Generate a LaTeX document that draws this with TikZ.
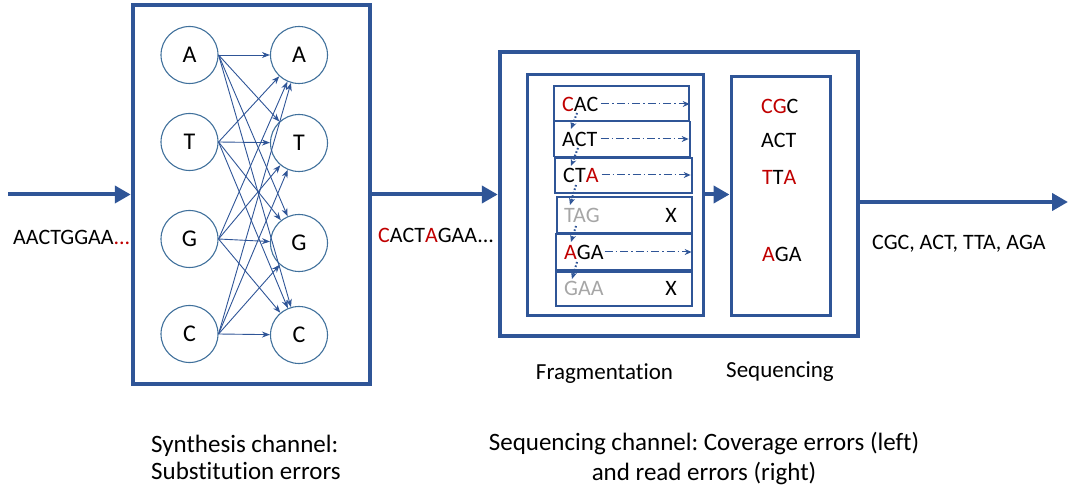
\documentclass[tikz,border=0pt]{standalone}
\usepackage{fontspec}
\setmainfont[Ligatures=NoCommon]{Carlito}
\usetikzlibrary{arrows.meta}
\frenchspacing
\definecolor{frameblue}{HTML}{2F5597}
\definecolor{ringblue}{HTML}{41719C}
\definecolor{errred}{HTML}{C00000}
\definecolor{lostgray}{HTML}{A6A6A6}
\newcommand{\er}[1]{\textcolor{errred}{#1}}
\newcommand{\lost}[1]{\textcolor{lostgray}{#1}}
\tikzset{
  channel/.style={draw=frameblue, line width=4.5pt},
  stage/.style={draw=frameblue, line width=3pt},
  fragbox/.style={draw=frameblue, line width=1.3pt},
  base/.style={circle, draw=ringblue, line width=1.1pt, minimum size=57pt, inner sep=0pt, font=\fontsize{24}{28}\selectfont},
  subst/.style={draw=frameblue, line width=0.9pt, -{Stealth[length=8pt,width=6pt]}},
  flow/.style={draw=frameblue, line width=4pt, -{Triangle[length=16pt,width=17pt]}},
  seqtext/.style={inner sep=0pt, font=\fontsize{22}{26}\selectfont},
  stagelabel/.style={inner sep=0pt, font=\fontsize{23}{27}\selectfont},
  caption/.style={inner sep=0pt, font=\fontsize{25}{30}\selectfont},
  readout/.style={draw=frameblue, line width=1pt, dash pattern=on 8pt off 3pt on 1.5pt off 3pt, -{Stealth[length=7pt,width=6pt]}},
  walk/.style={draw=frameblue, line width=2pt, dash pattern=on 1.6pt off 2pt, -{Stealth[length=7pt,width=6pt]}},
}
\begin{document}
\begin{tikzpicture}[x=1pt, y=-1pt]
\useasboundingbox (0,0) rectangle (1068,494);

% synthesis channel
\node[channel, minimum width=237pt, minimum height=379pt, inner sep=0pt] (syn) at (251.5,194.5) {};
\node[base] (la) at (189.5,55) {A};
\node[base] (lt) at (189.5,142) {T};
\node[base] (lg) at (189.5,239) {G};
\node[base] (lc) at (189.5,334) {C};
\node[base] (ra) at (299,55) {A};
\node[base] (rt) at (299,143) {T};
\node[base] (rg) at (299,243) {G};
\node[base] (rc) at (299,335) {C};
\foreach \s in {la,lt,lg,lc}
  \foreach \t in {ra,rt,rg,rc}
    \draw[subst] (\s.east) -- (\t);

% sequencing channel
\node[channel, minimum width=358pt, minimum height=284pt, inner sep=0pt] (seq) at (679,194) {};
\node[stage, minimum width=176pt, minimum height=240pt, inner sep=0pt] (frag) at (615,195) {};
\node[stage, minimum width=99pt, minimum height=238pt, inner sep=0pt] (read) at (780.5,196) {};

% fragments
\node[fragbox, minimum width=135pt, minimum height=35pt, inner sep=0pt] (f1) at (621.5,103.5) {};
\node[fragbox, minimum width=136pt, minimum height=35pt, inner sep=0pt] (f2) at (622,139) {};
\node[fragbox, minimum width=137pt, minimum height=35pt, inner sep=0pt] (f3) at (623.5,175.5) {};
\node[fragbox, minimum width=135pt, minimum height=36pt, inner sep=0pt] (f4) at (624.5,215) {};
\node[fragbox, minimum width=136pt, minimum height=36pt, inner sep=0pt] (f5) at (624,252) {};
\node[fragbox, minimum width=136pt, minimum height=34pt, inner sep=0pt] (f6) at (624,289) {};

\node[seqtext, anchor=west] (t1) at (562,104) {\er{C}AC};
\node[seqtext, anchor=west] (t2) at (562,139) {ACT};
\node[seqtext, anchor=west] (t3) at (563,175) {CT\er{A}};
\node[seqtext, anchor=west] (t4) at (564,215) {\lost{TAG}};
\node[seqtext, anchor=west] (t5) at (564,252) {\er{A}GA};
\node[seqtext, anchor=west] (t6) at (564,288) {\lost{GAA}};
\node[seqtext] (x4) at (671,215) {X};
\node[seqtext] (x6) at (671,288) {X};

\draw[readout] ([xshift=3pt]t1.east) -- (f1.east |- t1.east);
\draw[readout] ([xshift=3pt]t2.east) -- ([xshift=-2pt]f2.east |- t2.east);
\draw[readout] ([xshift=3pt]t3.east) -- ([xshift=-2pt]f3.east |- t3.east);
\draw[readout] ([xshift=1pt]t5.east) -- ([xshift=-1pt]f5.east |- t5.east);

\coordinate (w1a) at (577,113); \coordinate (w1b) at (571,129);
\coordinate (w2a) at (578,148); \coordinate (w2b) at (571,166);
\coordinate (w3a) at (576,185); \coordinate (w3b) at (570,205);
\coordinate (w4a) at (576,226); \coordinate (w4b) at (571,242);
\coordinate (w5a) at (577,262); \coordinate (w5b) at (572,279);
\draw[walk] (w1a) -- (w1b);
\draw[walk] (w2a) -- (w2b);
\draw[walk] (w3a) -- (w3b);
\draw[walk] (w4a) -- (w4b);
\draw[walk] (w5a) -- (w5b);

% reads
\node[seqtext, anchor=west] (r1) at (761,106.5) {\er{CG}C};
\node[seqtext, anchor=west] (r2) at (761,140.5) {ACT};
\node[seqtext, anchor=west] (r3) at (762,177) {\er{T}T\er{A}};
\node[seqtext, anchor=west] (r4) at (762,254) {\er{A}GA};

% main flow
\coordinate (src) at (8,194.5);
\coordinate (dst) at (1068,202);
\draw[flow] (src) -- (syn.west |- src);
\draw[flow] (syn.east |- 0,194.5) -- (seq.west |- 0,194.5);
\draw[flow] (frag.east |- 0,194.5) -- (read.west |- 0,194.5);
\draw[flow] (seq.east |- dst) -- (dst);

\node[seqtext, anchor=west] (in) at (13,237.5) {AACTGGAA\er{...}};
\node[seqtext, anchor=west] (mid) at (378,235) {\er{C}ACT\er{A}GAA...};
\node[seqtext, anchor=west] (out) at (872,244) {CGC, ACT, TTA, AGA};

% captions
\node[stagelabel, anchor=base] (lf) at (604.5,379) {Fragmentation};
\node[stagelabel, anchor=base] (ls) at (780,377) {Sequencing};
\node[caption, anchor=base west] (c1) at (151,452) {Synthesis channel:};
\node[caption, anchor=base west] (c2) at (151,479) {Substitution errors};
\node[caption, anchor=base] (c3) at (704,450) {Sequencing channel: Coverage errors (left)};
\node[caption, anchor=base] (c4) at (704,480) {and read errors (right)};
\end{tikzpicture}
\end{document}
